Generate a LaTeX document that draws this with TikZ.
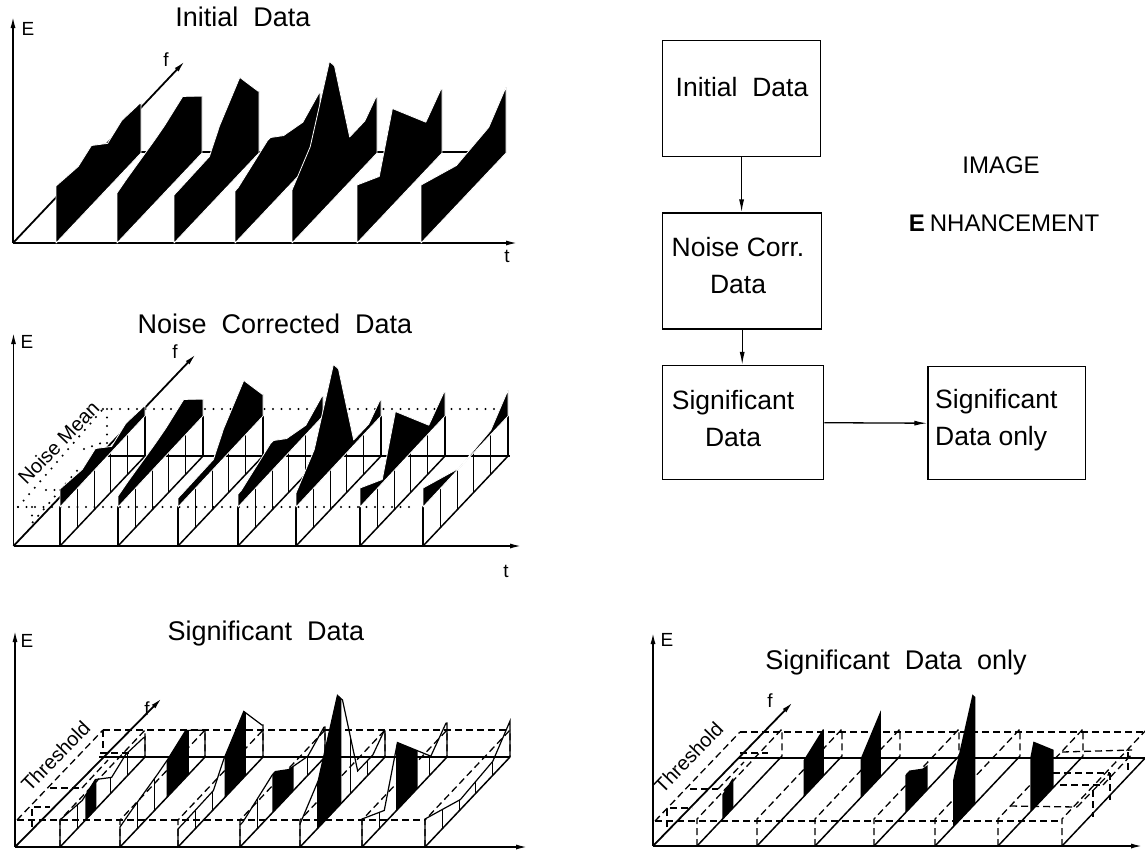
\documentclass[tikz,border=0pt]{standalone}
\usepackage{fontspec}
\setmainfont{Liberation Sans}
\usetikzlibrary{arrows.meta}

% spectra of the seven time steps: (position along f, height above the floor)
\def\specA{-- (0,57) -- (22,53) -- (35,60) -- (51,45) -- (65,53) -- (82,51) -- (84,50)}
\def\specB{-- (0,50) -- (10,54) -- (37,63) -- (47,67) -- (65,77) -- (82,59) -- (84,57)}
\def\specC{-- (0,48) -- (5,48) -- (35,49) -- (45,69) -- (65,96) -- (83,63) -- (84,62)}
\def\specD{-- (0,52) -- (3,52) -- (32,68) -- (35,68) -- (48,56) -- (67,49) -- (83,61) -- (84,60)}
\def\specE{-- (0,53) -- (18,77) -- (37,142) -- (42,132) -- (57,45) -- (72,45) -- (83,57) -- (84,56)}
\def\specF{-- (0,58) -- (22,43) -- (35,97) -- (68,48) -- (83,65) -- (84,64)}
\def\specG{-- (0,58) -- (35,40) -- (67,44) -- (84,66)}

% raw spectrum: solid black wall
\newcommand\rawslab[3]{%
  \begin{scope}[slab={#1}{#2}]
    \fill[mass] (0,0) #3 -- (84,0) -- cycle;
  \end{scope}}

% noise corrected spectrum: open comb below the noise mean, black above
\newcommand\noiseslab[3]{%
  \begin{scope}[slab={#1}{#2}]
    \draw[floorline] (0,0) -- (84,0);
    \foreach \d in {0,17,34,50,67,84} \draw[combline] (\d,0) -- (\d,40);
    \fill[mass] (0,39) #3 -- (84,40) -- cycle;
  \end{scope}}

% significant data: threshold box, wire spectrum, black where significant
\newcommand\sigslab[5]{%
  \begin{scope}[slab={#1}{#2}]
    \draw[floorline] (0,0) -- (84,0);
    \draw[thrline] (0,0) -- (0,27) -- (84,27) -- (84,0);
    \begin{scope}[yshift=-30pt]
      \draw[combline] (0,30) #3 -- (84,30);
      \begin{scope}
        \clip (0,30) #3 -- (84,30) -- cycle;
        \foreach \d in {17,34,50,67} \draw[combline] (\d,0) -- (\d,300);
        \fill (#4,0) -- (#5,0) -- (#5,300) -- (#4,300) -- cycle;
      \end{scope}
    \end{scope}
  \end{scope}}

% significant data only: threshold box and the black significant parts
\newcommand\onlyslab[5]{%
  \begin{scope}[slab={#1}{#2}]
    \draw[floorline] (0,0) -- (84,0);
    \draw[thrline] (0,0) -- (0,27) -- (84,27) -- (84,0);
    \begin{scope}[yshift=-30pt]
      \clip (#4,0) -- (#5,0) -- (#5,300) -- (#4,300) -- cycle;
      \fill (0,30) #3 -- (84,30) -- cycle;
    \end{scope}
  \end{scope}}

\begin{document}
\begin{tikzpicture}[x=1pt,y=-1pt,
  slab/.style 2 args={shift={(#1,#2)},x={(1.012pt,1.071pt)},y={(0pt,1pt)}},
  axisline/.style={line width=1.8pt,-{Latex[length=12pt,width=5pt]}},
  floorline/.style={line width=1.5pt},
  combline/.style={line width=1.2pt},
  thrline/.style={line width=1.3pt,dash pattern=on 7pt off 4pt},
  dotline/.style={line width=2.3pt,line cap=round,dash pattern=on 0pt off 8.5pt},
  mass/.style={fill=black,draw=white,line width=0.8pt,line join=round},
  axislabel/.style={inner sep=0pt,anchor=base,font=\fontsize{19}{19}\selectfont},
  plottitle/.style={inner sep=0pt,anchor=base,font=\fontsize{27}{27}\selectfont},
  slantlabel/.style={inner sep=0pt,rotate=46,font=\fontsize{20}{20}\selectfont},
  box/.style={draw,line width=1.5pt,inner sep=0pt},
  boxtext/.style={inner sep=0pt,font=\fontsize{26.5}{37}\selectfont},
  bigtext/.style={inner sep=0pt,anchor=base,font=\fontsize{24}{24}\selectfont},
  flow/.style={line width=1.3pt,-{Latex[length=13pt,width=5pt]}}]

\useasboundingbox (0,0) rectangle (1145,855);
\fill[white] (0,0) rectangle (1145,855);

% ================= initial data =================
\coordinate (oA) at (13,243);
\draw[axisline] (oA) -- (13,16);
\draw[axisline] (oA) -- (518,243);
\draw[axisline] (oA) -- (185,61);
\draw[floorline] (98,152) -- (506,152);
\rawslab{56}{243}{\specA}
\rawslab{117}{243}{\specB}
\rawslab{174}{243}{\specC}
\rawslab{235}{243}{\specD}
\rawslab{292}{243}{\specE}
\rawslab{357}{243}{\specF}
\rawslab{421}{243}{\specG}
\node[plottitle] (titleA) at (243,26) {Initial\ \ Data};
\node[axislabel] (eA) at (28,35.5) {E};
\node[axislabel] (fA) at (166,66) {f};
\node[axislabel] (tA) at (507,262) {t};

% ================= noise corrected data =================
\coordinate (oB) at (13.5,546);
\draw[axisline] (oB) -- (13.5,332);
\draw[axisline] (oB) -- (522,546);
\draw[axisline] (oB) -- (196,354);
\draw[floorline] (98,456) -- (510,456);
% noise mean plane
\draw[dotline] (18,507) -- (417,507);
\draw[dotline] (103,409) -- (510,409);
\draw[dotline] (18,507) -- (103,409);
\draw[dotline] (32,507) -- (32,523) -- (81,466);
\draw[dotline] (107,409) -- (107,447);
\draw[dotline] (84,449) -- (107,441);
\draw[dotline] (46,490) -- (60,490);
\noiseslab{60}{546}{\specA}
\noiseslab{118}{546}{\specB}
\noiseslab{178}{546}{\specC}
\noiseslab{238}{546}{\specD}
\noiseslab{296}{546}{\specE}
\noiseslab{360}{546}{\specF}
\noiseslab{423}{546}{\specG}
\node[plottitle] (titleB) at (275,333.5) {Noise\ \ Corrected\ \ Data};
\node[axislabel] (eB) at (27,348) {E};
\node[axislabel] (fB) at (175,358) {f};
\node[axislabel] (tB) at (506,577) {t};
\node[slantlabel] (noiseB) at (58.5,442.5) {Noise Mean};

% ================= significant data =================
\coordinate (oC) at (15,847);
\draw[axisline] (oC) -- (15,630);
\draw[axisline] (oC) -- (528,847);
\draw[axisline] (oC) -- (162,698);
\draw[floorline] (99,757) -- (510,757);
% threshold plane
\draw[thrline] (17,820) -- (425,820);
\draw[thrline] (103,730) -- (510,730);
\draw[thrline] (17,820) -- (103,730);
\draw[thrline] (32,827) -- (32,807) -- (50,807);
\draw[thrline] (50,788) -- (82,788);
\draw[thrline] (82,788) -- (108,760);
\draw[thrline] (100,753) -- (130,753);
\draw[thrline] (103,730) -- (103,753);
\sigslab{60}{847}{\specA}{25}{36}
\sigslab{120}{847}{\specB}{46}{68}
\sigslab{178}{847}{\specC}{46}{67}
\sigslab{240}{847}{\specD}{32}{53}
\sigslab{300}{847}{\specE}{18}{41}
\sigslab{362}{847}{\specF}{34}{55}
\sigslab{425}{847}{\specG}{200}{200}
\node[plottitle] (titleC) at (266,640.5) {Significant\ \ Data};
\node[axislabel] (eC) at (27,647) {E};
\node[axislabel] (fC) at (147,715) {f};
\node[slantlabel] (thrC) at (55.5,756) {Threshold};

% ================= significant data only =================
\coordinate (oD) at (653,846);
\draw[axisline] (oD) -- (653,632);
\draw[axisline] (oD) -- (1143,846);
\draw[axisline] (oD) -- (793,702);
\draw[floorline] (738,758) -- (1150,758);
% threshold plane
\draw[thrline] (655,821) -- (1062,821);
\draw[thrline] (740,732) -- (1150,732);
\draw[thrline] (655,821) -- (740,732);
\draw[thrline] (667,827) -- (667,808) -- (692,808);
\draw[thrline] (690,789) -- (718,789);
\draw[thrline] (718,789) -- (744,762);
\draw[thrline] (740,753) -- (768,753);
% raised threshold boxes at high t
\draw[thrline] (1062,752) -- (1132,750);
\draw[thrline] (1053,773) -- (1110,773);
\draw[thrline] (1060,785) -- (1103,785);
\draw[thrline] (1010,806) -- (1077,807);
\draw[thrline] (1077,807) -- (1110,773);
\draw[thrline] (1103,785) -- (1132,754);
\draw[thrline] (1093,790) -- (1093,817);
\draw[thrline] (1110,773) -- (1110,800);
\draw[thrline] (1128,752) -- (1128,770);
\onlyslab{697}{846}{\specA}{25}{36}
\onlyslab{757}{846}{\specB}{46}{66}
\onlyslab{815}{846}{\specC}{45}{65}
\onlyslab{874}{846}{\specD}{31}{53}
\onlyslab{935}{846}{\specE}{18}{40}
\onlyslab{998}{846}{\specF}{32}{55}
\onlyslab{1062}{846}{\specG}{200}{200}
\node[plottitle] (titleD) at (896,669) {Significant\ \ Data\ \ only};
\node[axislabel] (eD) at (667,646) {E};
\node[axislabel] (fD) at (770,707) {f};
\node[slantlabel] (thrD) at (688.5,757.5) {Threshold};

% ================= flow of the enhancement =================
\node[box,minimum width=158pt,minimum height=116pt] (init) at (741.6,98.6) {};
\node[box,minimum width=159pt,minimum height=116pt] (corr) at (742.2,271.2) {};
\node[box,minimum width=161pt,minimum height=114pt] (sig) at (743,422.7) {};
\node[box,minimum width=157.5pt,minimum height=113pt] (only) at (1006.8,423.2) {};
\node[boxtext,anchor=base] (initT) at (742,96.5) {Initial\ \ Data};
\node[boxtext,align=center] (corrT) at (738,265.6) {Noise Corr.\\Data};
\node[boxtext,align=center] (sigT) at (733,418.5) {Significant\\Data};
\node[boxtext,align=left,anchor=west] (onlyT) at (935,419.8) {Significant\\Data only};
\draw[flow] (init.south) -- (init.south |- corr.north);
\draw[flow] (corr.south) -- (corr.south |- sig.north);
\draw[flow] (sig.east) -- (only.west);
\node[bigtext] (imageT) at (1001,173) {IMAGE};
\node[bigtext] (enhT) at (1004,231.7) {{\bfseries E}\kern5pt NHANCEMENT};

\end{tikzpicture}
\end{document}
